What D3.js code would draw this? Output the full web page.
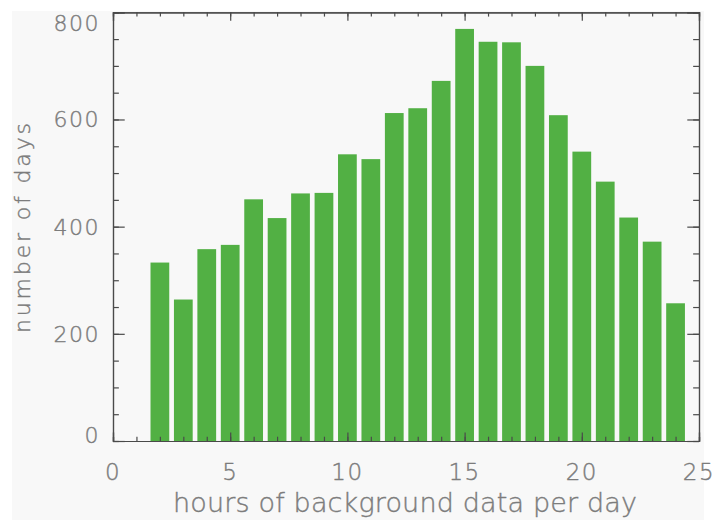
<!DOCTYPE html>
<html>
<head>
<meta charset="utf-8">
<style>
    body { margin: 0; background: #ffffff; }
    text { font-family: "DejaVu Sans", sans-serif; font-weight: 200; fill: #7c7c7c; stroke: #7c7c7c; stroke-width: 0.4; }
</style>
</head>
<body>
    <svg id="chart" width="715" height="520"></svg>
</body>
<script src="https://d3js.org/d3.v7.min.js"></script>
<script>
    // hours of background data per day -> number of days
    let hours = [2, 3, 4, 5, 6, 7, 8, 9, 10, 11, 12, 13, 14, 15, 16, 17, 18, 19, 20, 21, 22, 23, 24];
    let days = [333, 264, 358, 366, 451, 416, 462, 463, 535, 526, 612, 621, 672, 769, 745, 744, 700, 608, 540, 484, 417, 372, 257];
    let xTicks = [0, 5, 10, 15, 20, 25];
    let yTicks = [0, 200, 400, 600, 800];

    let svg = d3.select("#chart");

    // grey canvas behind the plot
    svg.append("rect")
        .attr("x", 12).attr("y", 11)
        .attr("width", 692).attr("height", 509)
        .attr("fill", "#f8f8f8");

    let plotLeft = 113, plotRight = 699, plotTop = 12.3, plotBottom = 441;

    let x = d3.scaleLinear().domain([0, 25]).range([plotLeft, plotRight]);
    let y = d3.scaleLinear().domain([0, 800]).range([plotBottom, plotTop]);
    let barWidth = x(0.8) - x(0);

    svg.append("g").selectAll("rect").data(hours)
        .enter()
        .append("rect")
        .attr("fill", "#52b044")
        .attr("x", (h) => x(h) - barWidth / 2)
        .attr("width", barWidth)
        .attr("y", (h, i) => y(days[i]))
        .attr("height", (h, i) => y(0) - y(days[i]));

    // IDL style: ticks point inward, 2% of plot size, minor ticks half length
    let xLen = 0.02 * (plotBottom - plotTop), yLen = 0.02 * (plotRight - plotLeft);
    let axisColor = "#4a4a4a";
    let xMinor = d3.range(0, 26, 1);
    let yMinor = d3.range(0, 801, 50);

    let axes = svg.append("g");
    function addAxis(axis, tx, ty) {
        axes.append("g").attr("transform", `translate(${tx}, ${ty})`).call(axis);
    }
    addAxis(d3.axisBottom(x).tickValues(xMinor).tickSize(-xLen / 2).tickFormat(""), 0, plotBottom);
    addAxis(d3.axisBottom(x).tickValues(xTicks).tickSize(-xLen).tickFormat(""), 0, plotBottom);
    addAxis(d3.axisTop(x).tickValues(xMinor).tickSize(-xLen / 2).tickFormat(""), 0, plotTop);
    addAxis(d3.axisTop(x).tickValues(xTicks).tickSize(-xLen).tickFormat(""), 0, plotTop);
    addAxis(d3.axisLeft(y).tickValues(yMinor).tickSize(-yLen / 2).tickFormat(""), plotLeft, 0);
    addAxis(d3.axisLeft(y).tickValues(yTicks).tickSize(-yLen).tickFormat(""), plotLeft, 0);
    addAxis(d3.axisRight(y).tickValues(yMinor).tickSize(-yLen / 2).tickFormat(""), plotRight, 0);
    addAxis(d3.axisRight(y).tickValues(yTicks).tickSize(-yLen).tickFormat(""), plotRight, 0);
    axes.selectAll("path, line").attr("stroke", axisColor).attr("stroke-width", 1.2);

    // tick labels
    svg.append("g").selectAll("text").data(xTicks)
        .enter()
        .append("text")
        .attr("x", (v) => x(v))
        .attr("y", 480)
        .attr("text-anchor", "middle")
        .attr("font-size", 23)
        .attr("letter-spacing", 1.5)
        .text((v) => v);

    svg.append("g").selectAll("text").data(yTicks)
        .enter()
        .append("text")
        .attr("x", 100)
        .attr("y", (v) => Math.min(Math.max(y(v), 23), 434.5) + 8)
        .attr("text-anchor", "end")
        .attr("font-size", 22)
        .attr("letter-spacing", 1.5)
        .text((v) => v);

    // axis titles
    svg.append("text")
        .attr("x", 173)
        .attr("y", 511.5)
        .attr("font-size", 27)
        .attr("textLength", 464)
        .attr("lengthAdjust", "spacing")
        .text("hours of background data per day");

    svg.append("text")
        .attr("transform", "translate(30, 333) rotate(-90)")
        .attr("font-size", 22)
        .attr("textLength", 210)
        .attr("lengthAdjust", "spacing")
        .text("number of days");
</script>
</html>
